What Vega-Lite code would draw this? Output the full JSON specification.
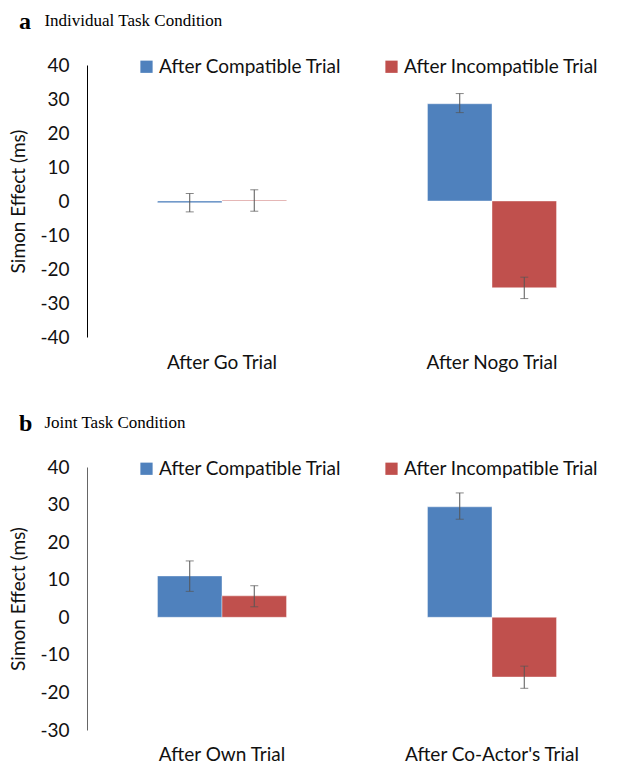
{
  "$schema": "https://vega.github.io/schema/vega-lite/v6.json",
  "padding": {"left": 9, "top": 10, "right": 0, "bottom": 0},
  "spacing": 40,
  "datasets": {
    "a": [
      {"trial": "After Go Trial", "prev": "After Compatible Trial", "value": -0.5, "lo": -3.2, "hi": 2.2},
      {"trial": "After Go Trial", "prev": "After Incompatible Trial", "value": 0.2, "lo": -3.0, "hi": 3.3},
      {"trial": "After Nogo Trial", "prev": "After Compatible Trial", "value": 28.6, "lo": 26.0, "hi": 31.6},
      {"trial": "After Nogo Trial", "prev": "After Incompatible Trial", "value": -25.5, "lo": -28.7, "hi": -22.4}
    ],
    "b": [
      {"trial": "After Own Trial", "prev": "After Compatible Trial", "value": 11.0, "lo": 6.9, "hi": 15.0},
      {"trial": "After Own Trial", "prev": "After Incompatible Trial", "value": 5.7, "lo": 2.8, "hi": 8.4},
      {"trial": "After Co-Actor's Trial", "prev": "After Compatible Trial", "value": 29.4, "lo": 26.1, "hi": 33.1},
      {"trial": "After Co-Actor's Trial", "prev": "After Incompatible Trial", "value": -15.9, "lo": -18.9, "hi": -13.0}
    ]
  },
  "config": {
    "view": {"stroke": null},
    "font": "Lato",
    "axis": {"grid": false, "ticks": false, "labelFont": "Lato", "labelFontSize": 19, "labelColor": "#111", "titleFont": "Lato", "titleFontSize": 19, "titleFontWeight": "normal", "titleColor": "#111", "labelOverlap": false},
    "title": {"anchor": "start", "frame": "bounds", "font": "Liberation Serif", "fontSize": 24, "fontWeight": "bold", "color": "black", "subtitleFont": "Liberation Serif", "subtitleFontSize": 17, "subtitleColor": "black", "subtitlePadding": -21, "dx": 9, "offset": 22},
    "legend": {"labelFont": "Lato", "labelFontSize": 19, "labelColor": "#111", "labelLimit": 0, "symbolType": "square", "symbolSize": 150, "symbolStrokeWidth": 0, "padding": 0, "columnPadding": 40, "labelOffset": 3}
  },
  "vconcat": [
    {
      "title": {"text": "a", "subtitle": "\u200b\u00a0\u00a0\u00a0\u00a0\u00a0\u00a0Individual Task Condition"},
      "width": 540,
      "height": 272,
      "data": {"name": "a"},
      "encoding": {
        "x": {"field": "trial", "type": "nominal", "sort": null, "scale": {"paddingInner": 0.522, "paddingOuter": 0.261},
              "axis": {"title": null, "domain": false, "labelAngle": 0, "labelPadding": 16}},
        "xOffset": {"field": "prev", "type": "nominal", "sort": null, "scale": {"paddingInner": 0, "paddingOuter": 0}},
        "y": {"type": "quantitative", "scale": {"domain": [-40, 40], "nice": false},
              "axis": {"title": "Simon Effect (ms)", "values": [-40, -30, -20, -10, 0, 10, 20, 30, 40], "labelOverlap": false, "labelExpr": "datum.value < 0 ? '-' + abs(datum.value) : '' + datum.value", "domainColor": "#000", "labelPadding": 18, "titlePadding": 11}}
      },
      "layer": [
        {
          "mark": {"type": "bar", "stroke": "#ffffff", "strokeOpacity": 0.4, "strokeWidth": 1},
          "encoding": {
            "y": {"field": "value"},
            "color": {"field": "prev", "type": "nominal", "sort": null, "scale": {"range": ["#4F81BD", "#C0504D"]},
                      "legend": {"title": null, "orient": "none", "direction": "horizontal", "legendX": 50, "legendY": -8}}
          }
        },
        {"mark": {"type": "rule", "color": "#000", "strokeWidth": 1}, "encoding": {"y": {"datum": 0}}},
        {"mark": {"type": "rule", "color": "#555", "strokeWidth": 1}, "encoding": {"y": {"field": "lo"}, "y2": {"field": "hi"}}},
        {"mark": {"type": "tick", "color": "#555", "orient": "horizontal", "size": 8, "thickness": 1}, "encoding": {"y": {"field": "lo"}}},
        {"mark": {"type": "tick", "color": "#555", "orient": "horizontal", "size": 8, "thickness": 1}, "encoding": {"y": {"field": "hi"}}}
      ]
    },
    {
      "title": {"text": "b", "subtitle": "\u200b\u00a0\u00a0\u00a0\u00a0\u00a0\u00a0Joint Task Condition"},
      "width": 540,
      "height": 263,
      "data": {"name": "b"},
      "encoding": {
        "x": {"field": "trial", "type": "nominal", "sort": null, "scale": {"paddingInner": 0.522, "paddingOuter": 0.261},
              "axis": {"title": null, "domain": false, "labelAngle": 0, "labelPadding": 15}},
        "xOffset": {"field": "prev", "type": "nominal", "sort": null, "scale": {"paddingInner": 0, "paddingOuter": 0}},
        "y": {"type": "quantitative", "scale": {"domain": [-30, 40], "nice": false},
              "axis": {"title": "Simon Effect (ms)", "values": [-30, -20, -10, 0, 10, 20, 30, 40], "labelOverlap": false, "labelExpr": "datum.value < 0 ? '-' + abs(datum.value) : '' + datum.value", "domainColor": "#666", "labelPadding": 18, "titlePadding": 11}}
      },
      "layer": [
        {
          "mark": {"type": "bar", "stroke": "#ffffff", "strokeOpacity": 0.4, "strokeWidth": 1},
          "encoding": {
            "y": {"field": "value"},
            "color": {"field": "prev", "type": "nominal", "sort": null, "scale": {"range": ["#4F81BD", "#C0504D"]},
                      "legend": {"title": null, "orient": "none", "direction": "horizontal", "legendX": 50, "legendY": -8}}
          }
        },
        {"mark": {"type": "rule", "color": "#000", "strokeWidth": 1}, "encoding": {"y": {"datum": 0}}},
        {"mark": {"type": "rule", "color": "#555", "strokeWidth": 1}, "encoding": {"y": {"field": "lo"}, "y2": {"field": "hi"}}},
        {"mark": {"type": "tick", "color": "#555", "orient": "horizontal", "size": 8, "thickness": 1}, "encoding": {"y": {"field": "lo"}}},
        {"mark": {"type": "tick", "color": "#555", "orient": "horizontal", "size": 8, "thickness": 1}, "encoding": {"y": {"field": "hi"}}}
      ]
    }
  ],
  "resolve": {"scale": {"color": "independent"}, "legend": {"color": "independent"}}
}
